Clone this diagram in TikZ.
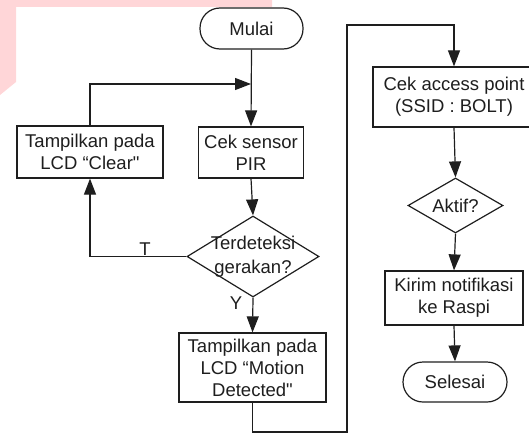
\documentclass[tikz,border=0pt]{standalone}
\usepackage{fontspec}
\setmainfont{Liberation Sans}[Ligatures=TeXOff]
\usetikzlibrary{arrows.meta,shapes.geometric}
\definecolor{wmpink}{RGB}{255,214,216}
\definecolor{ink}{RGB}{30,30,30}
\begin{document}
\begin{tikzpicture}[x=1pt,y=-1pt,
  every node/.style={font=\fontsize{18.5}{22}\selectfont, text=ink},
  proc/.style={draw=ink, line width=1.2pt, rectangle, inner sep=0pt, align=center},
  term/.style={draw=ink, line width=1.2pt, rectangle, rounded corners=20pt, inner sep=0pt, align=center},
  dec/.style={draw=ink, line width=1.2pt, diamond, inner sep=0pt},
  conn/.style={draw=ink, line width=1.2pt},
  arr/.style={conn, -{Triangle[length=16pt,width=12pt]}},
  lbl/.style={inner sep=0pt}
]
\useasboundingbox (0,0) rectangle (529,436);
\clip (0,0) rectangle (529,436);
% watermark
\fill[wmpink] (0,0) -- (272,0) -- (272,7) -- (16,7) -- (16,82) -- (0,95) -- cycle;

% nodes
\node[term, minimum width=103pt, minimum height=41pt] (mulai) at (251.5,28.5) {Mulai};
\node[proc, minimum width=105pt, minimum height=51pt] (pir) at (251,152.5) {Cek sensor\\PIR};
\node[proc, minimum width=146pt, minimum height=52pt] (clear) at (90,152) {Tampilkan pada\\LCD “Clear"};
\node[dec, minimum width=132pt, minimum height=81pt,
  label={[align=center, inner sep=0pt, font=\fontsize{18.5}{24}\selectfont, text=ink]center:Terdeteksi\\gerakan?}] (det) at (253,256.5) {};
\node[proc, minimum width=147pt, minimum height=69pt] (motion) at (252.5,367.5) {Tampilkan pada\\LCD “Motion\\Detected"};
\node[proc, minimum width=162pt, minimum height=60pt] (ap) at (454,97) {Cek access point\\(SSID : BOLT)};
\node[dec, minimum width=95pt, minimum height=55pt,
  label={[inner sep=0pt, font=\fontsize{18.5}{22}\selectfont, text=ink]center:Aktif?}] (aktif) at (455.5,205.5) {};
\node[proc, minimum width=138pt, minimum height=54pt] (kirim) at (454,298) {Kirim notifikasi\\ke Raspi};
\node[term, minimum width=104pt, minimum height=40pt] (selesai) at (455,382) {Selesai};

% helper coordinates
\coordinate (j1) at (pir.north |- 0,84);
\coordinate (cl1) at (clear.north |- 0,84);
\coordinate (dl) at (clear.south |- det.west);
\coordinate (m1) at (motion.south |- 0,432);
\coordinate (m2) at (347,432);
\coordinate (m3) at (347,25);
\coordinate (m4) at (ap.north |- 0,25);

% connectors
\draw[arr] (mulai.south) -- (pir.north);
\draw[arr] (clear.north) -- (cl1) -- (j1);
\draw[arr] (pir.south) -- (det.north);
\draw[arr] (det.west) -- (dl) -- (clear.south);
\node[lbl] (tlbl) at (145,249) {T};
\draw[arr] (det.south) -- (motion.north);
\node[lbl] (ylbl) at (236,303) {Y};
\draw[arr] (motion.south) -- (m1) -- (m2) -- (m3) -- (m4) -- (ap.north);
\draw[arr] (ap.south) -- (aktif.north);
\draw[arr] (aktif.south) -- (kirim.north);
\draw[arr] (kirim.south) -- (selesai.north);
\end{tikzpicture}
\end{document}
